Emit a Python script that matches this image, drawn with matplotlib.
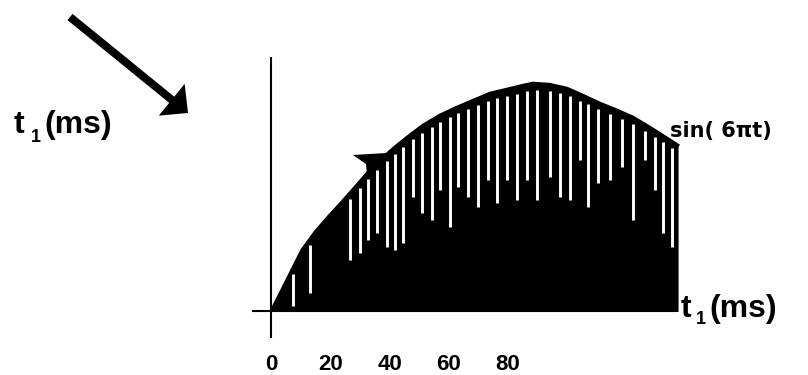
import numpy as np
import matplotlib
matplotlib.use("Agg")
import matplotlib.pyplot as plt
from matplotlib.patches import Polygon, FancyArrow

# ---- data ----
curve_t_ms = [0.0, 3.6, 7.0, 10.4, 14.9, 19.3, 23.9, 28.4, 32.8, 37.4, 41.9, 45.9,
              51.3, 57.0, 62.8, 68.2, 73.9, 79.7, 85.1, 88.4, 94.0, 99.9, 105.3,
              111.1, 116.8, 122.2, 127.9, 133.7, 137.4]
curve_amp = [0.0, 0.092, 0.180, 0.268, 0.348, 0.414, 0.479, 0.545, 0.611, 0.670,
             0.721, 0.763, 0.816, 0.860, 0.895, 0.925, 0.956, 0.974, 0.991, 1.000,
             0.995, 0.978, 0.947, 0.912, 0.882, 0.851, 0.807, 0.759, 0.728]

stripe_t_ms = [7.5, 13.2, 26.7, 30.0, 32.8, 35.7, 39.1, 41.9, 44.7, 48.0, 50.9, 54.2,
               57.0, 60.4, 63.2, 66.6, 70.0, 73.4, 76.2, 79.6, 82.9, 86.3, 89.7,
               94.2, 97.6, 100.9, 104.3, 107.1, 110.5, 114.4, 118.4, 122.3, 126.2,
               129.6, 132.4, 135.3]
stripe_bottom = [0.02, 0.08, 0.224, 0.254, 0.311, 0.342, 0.281, 0.268, 0.298, 0.50,
                 0.43, 0.40, 0.53, 0.368, 0.544, 0.50, 0.456, 0.575, 0.474, 0.575,
                 0.487, 0.575, 0.487, 0.589, 0.501, 0.487, 0.662, 0.457, 0.56, 0.575,
                 0.633, 0.40, 0.662, 0.53, 0.342, 0.282]

tick_vals = [0, 20, 40, 60, 80]
tick_labels = ["0", "20", "40", "60", "80"]
axis_label = "(ms)"
curve_label = "sin( 6\u03c0t)"

W, H = 808, 375
fig = plt.figure(figsize=(W / 100, H / 100), dpi=100)
fig.patch.set_facecolor("white")

# main chart axes (pixel box x 252..700, y 40..340)
ax = fig.add_axes([252 / W, (H - 340) / H, 448 / W, 300 / H])
ax.set_xlim(-6.41, 144.8)
ax.set_ylim(-0.127, 1.189)
for s in ax.spines.values():
    s.set_visible(False)
ax.set_facecolor("none")

t = np.array(curve_t_ms)
a = np.array(curve_amp)
ax.fill_between(t, 0, a, color="black", lw=0, zorder=2)
ax.plot(t, a, color="black", lw=2.0, zorder=2, solid_joinstyle="round")

st = np.array(stripe_t_ms)
top = np.interp(st, t, a) - 0.03
ax.vlines(st, stripe_bottom, top, colors="white", lw=2.1, zorder=3)

# axes lines
ax.plot([-0.1, -0.1], [-0.118, 1.114], color="black", lw=1.5, zorder=4, solid_capstyle="butt")
ax.plot([-6.4, t[-1]], [0, 0], color="black", lw=1.5, zorder=4, solid_capstyle="butt")

ax.set_xticks(tick_vals)
ax.set_xticklabels(tick_labels, fontfamily="Liberation Sans", fontweight="bold", fontsize=16)
ax.tick_params(axis="x", length=0, pad=10)
ax.set_yticks([])

# overlay in pixel coordinates for annotations
ov = fig.add_axes([0, 0, 1, 1])
ov.set_xlim(0, W)
ov.set_ylim(H, 0)
ov.axis("off")
ov.set_facecolor("none")

# big arrow
ov.add_patch(FancyArrow(70, 17, 118, 96, width=8, head_width=41, head_length=21,
                        length_includes_head=True, color="black", lw=0))

# small arrowhead on curve
ov.add_patch(Polygon([(353, 155), (387, 153), (367, 174), (366, 164)], closed=True,
                     facecolor="black", edgecolor="none", zorder=5))

tf = dict(fontfamily="Liberation Sans", fontweight="bold", color="black")
# left label
ov.text(14, 133, "t", fontsize=23, ha="left", va="baseline", **tf)
ov.text(31, 142, "1", fontsize=13, ha="left", va="baseline", **tf)
ov.text(44, 133, axis_label, fontsize=23, ha="left", va="baseline", **tf)
# right label
ov.text(681, 317, "t", fontsize=23, ha="left", va="baseline", **tf)
ov.text(696, 324, "1", fontsize=13, ha="left", va="baseline", **tf)
ov.text(709, 317, axis_label, fontsize=23, ha="left", va="baseline", **tf)
# curve label
ov.text(670, 137, curve_label, fontsize=15, ha="left", va="baseline",
        fontfamily="DejaVu Sans", fontweight="bold", color="black")

fig.savefig("out.png", dpi=100, facecolor="white")
